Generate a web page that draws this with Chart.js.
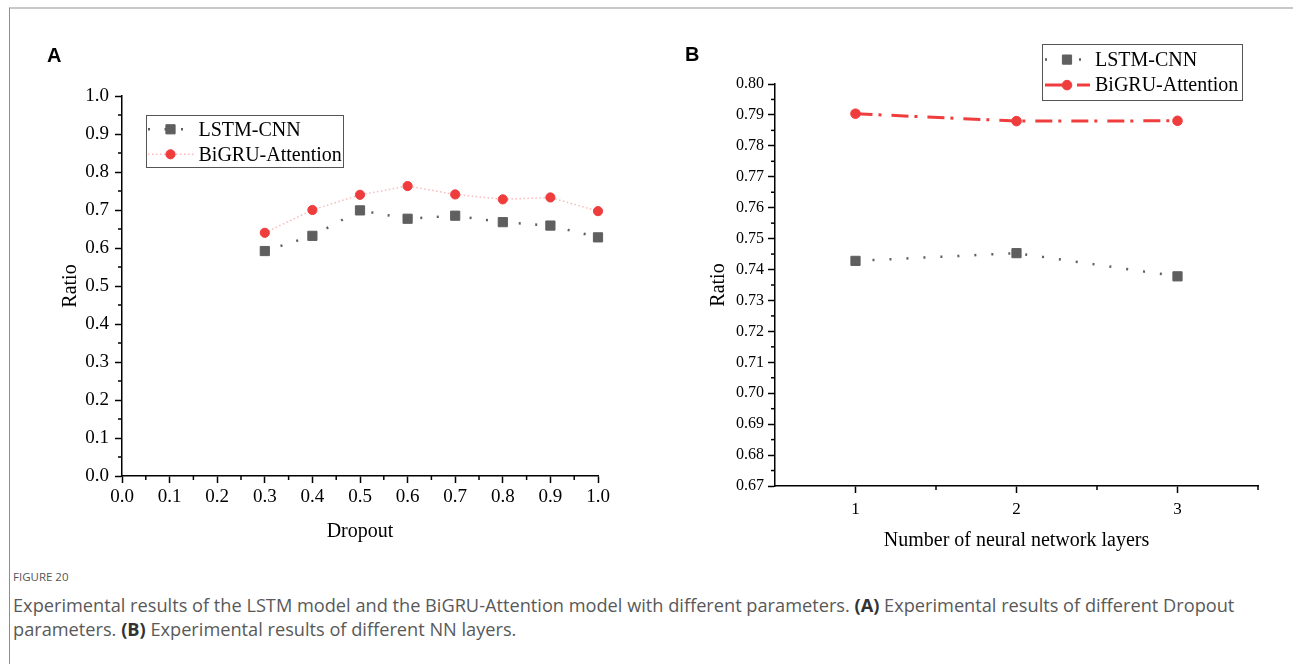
<!DOCTYPE html>
<html><head><meta charset="utf-8">
<script src="https://cdn.jsdelivr.net/npm/chart.js@4"></script>
<style>
html,body{margin:0;padding:0;background:#fff;width:1293px;height:664px;overflow:hidden;position:relative;}
#frame{position:absolute;left:9px;top:7px;width:1300px;height:700px;border-top:2px solid #c8c8c8;border-left:1px solid #8e8e8e;box-sizing:border-box;}
canvas{position:absolute;top:0;}
#ca{left:0;}
#cb{left:640px;}
.letter{position:absolute;font-family:"Liberation Sans",Arial,sans-serif;font-weight:bold;font-size:20px;line-height:20px;color:#000;}
#cap1{position:absolute;left:13px;top:569px;font-family:"Open Sans",sans-serif;font-size:11.5px;line-height:16px;color:#555;white-space:nowrap;}
#cap2{position:absolute;left:13px;top:593px;font-family:"Open Sans",sans-serif;font-size:18.2px;line-height:24px;color:#595959;white-space:nowrap;letter-spacing:0px;}
#cap2 b{color:#333;}
</style></head>
<body>
<div id="frame"></div>
<canvas id="ca" width="640" height="560"></canvas>
<canvas id="cb" width="653" height="560"></canvas>
<div class="letter" style="left:47px;top:45px;">A</div>
<div class="letter" style="left:685px;top:44px;">B</div>
<div id="cap1">FIGURE 20</div>
<div id="cap2">Experimental results of the LSTM model and the BiGRU-Attention model with different parameters. <b>(A)</b> Experimental results of different Dropout<br>parameters. <b>(B)</b> Experimental results of different NN layers.</div>
<script>
// ---- data ----
const seriesNames = ['LSTM-CNN', 'BiGRU-Attention'];
const dropout = [0.3, 0.4, 0.5, 0.6, 0.7, 0.8, 0.9, 1.0];
const lstmCnnA = [0.592, 0.632, 0.699, 0.677, 0.685, 0.668, 0.659, 0.628];
const bigruA = [0.640, 0.700, 0.740, 0.763, 0.741, 0.728, 0.733, 0.697];
const layers = [1, 2, 3];
const lstmCnnB = [0.7428, 0.7453, 0.7378];
const bigruB = [0.7904, 0.7880, 0.7881];
const xTicksA = [0.0, 0.1, 0.2, 0.3, 0.4, 0.5, 0.6, 0.7, 0.8, 0.9, 1.0];
const yTicksB = [0.67, 0.68, 0.69, 0.70, 0.71, 0.72, 0.73, 0.74, 0.75, 0.76, 0.77, 0.78, 0.79, 0.80];

const GRAY = '#5f5f5f';
const RED = '#ef3d3d';
const SERIF = '"Liberation Serif", "Times New Roman", serif';

function pts(xs, ys) { return xs.map((x, i) => ({ x: x, y: ys[i] })); }
function mids(arr) { const m = []; for (let i = 0; i < arr.length - 1; i++) m.push((arr[i] + arr[i + 1]) / 2); return m; }

const minorTicks = {
  id: 'minorTicks',
  afterDraw(chart, args, o) {
    const ctx = chart.ctx, ca = chart.chartArea;
    ctx.save(); ctx.strokeStyle = '#000'; ctx.lineWidth = 1.5;
    (o.x || []).forEach(v => {
      const px = chart.scales.x.getPixelForValue(v);
      ctx.beginPath(); ctx.moveTo(px, ca.bottom); ctx.lineTo(px, ca.bottom + o.len); ctx.stroke();
    });
    (o.y || []).forEach(v => {
      const py = chart.scales.y.getPixelForValue(v);
      ctx.beginPath(); ctx.moveTo(ca.left, py); ctx.lineTo(ca.left - o.len, py); ctx.stroke();
    });
    ctx.restore();
  }
};

function drawMarker(ctx, style, r, x, y, color) {
  ctx.fillStyle = color; ctx.strokeStyle = color; ctx.lineWidth = 1;
  ctx.beginPath();
  if (style === 'rect') { const s = r * Math.SQRT1_2; ctx.rect(x - s, y - s, 2 * s, 2 * s); }
  else { ctx.arc(x, y, r, 0, Math.PI * 2); }
  ctx.fill(); ctx.stroke();
}

const boxLegend = {
  id: 'boxLegend',
  afterDraw(chart, args, o) {
    const ctx = chart.ctx;
    ctx.save();
    ctx.strokeStyle = '#555'; ctx.lineWidth = 1;
    ctx.strokeRect(o.x + 0.5, o.y + 0.5, o.w, o.h);
    chart.data.datasets.forEach((ds, i) => {
      const cy = o.y + o.rows[i];
      ctx.save();
      ctx.strokeStyle = ds.borderColor; ctx.lineWidth = ds.borderWidth;
      ctx.setLineDash(o.dash[i]);
      ctx.beginPath(); ctx.moveTo(o.x + o.lx0[i], cy); ctx.lineTo(o.x + o.lx1[i], cy); ctx.stroke();
      ctx.restore();
      drawMarker(ctx, ds.pointStyle, ds.pointRadius, o.x + o.mx, cy, ds.pointBackgroundColor);
      ctx.fillStyle = '#000';
      ctx.font = o.font;
      ctx.textBaseline = 'middle'; ctx.textAlign = 'left';
      ctx.fillText(ds.label, o.x + o.tx, cy + 1);
    });
    ctx.restore();
  }
};

function axisCommon(size) {
  return {
    grid: { display: true, drawOnChartArea: false, drawTicks: true, tickLength: 7, tickColor: '#000', tickWidth: 1.5 },
    border: { display: true, color: '#000', width: 1.5 },
    ticks: { color: '#000', font: { family: SERIF, size: size } }
  };
}

// ---- Chart A ----
const axAx = axisCommon(19), axAy = axisCommon(19);
new Chart(document.getElementById('ca'), {
  type: 'line',
  data: {
    datasets: [
      { label: seriesNames[0], data: pts(dropout, lstmCnnA), borderColor: GRAY, borderWidth: 2.5, borderDash: [2, 14.5],
        pointStyle: 'rect', pointRadius: 6.5, pointBackgroundColor: GRAY, pointBorderColor: GRAY, pointBorderWidth: 1, clip: false, tension: 0 },
      { label: seriesNames[1], data: pts(dropout, bigruA), borderColor: 'rgba(239,61,61,0.35)', borderWidth: 1.5, borderDash: [1.5, 2.5],
        pointStyle: 'circle', pointRadius: 4.6, pointBackgroundColor: RED, pointBorderColor: RED, pointBorderWidth: 1, clip: false, tension: 0 }
    ]
  },
  options: {
    responsive: false, animation: false, events: [],
    layout: { padding: { left: 0, top: 96, right: 42, bottom: 0 } },
    plugins: {
      legend: { display: false }, tooltip: { enabled: false },
      minorTicks: { x: mids(xTicksA), y: mids(xTicksA), len: 4 },
      boxLegend: { x: 146, y: 115, w: 197, h: 52, rows: [14.3, 39.3], lx0: [2, 2], lx1: [40, 50], dash: [[2, 14.5], [1.5, 2.5]],
        mx: 24.5, tx: 52.5, font: '20px ' + SERIF }
    },
    scales: {
      x: Object.assign(axAx, {
        type: 'linear', min: 0, max: 1,
        ticks: Object.assign(axAx.ticks, { stepSize: 0.1, padding: 3, maxRotation: 0, autoSkip: false, callback: v => v.toFixed(1) }),
        title: { display: true, text: 'Dropout', color: '#000', font: { family: SERIF, size: 20 }, padding: { top: 0, bottom: 16 } },
        afterFit: s => { s.height = 84; }
      }),
      y: Object.assign(axAy, {
        type: 'linear', min: 0, max: 1,
        ticks: Object.assign(axAy.ticks, { stepSize: 0.1, padding: 6, callback: v => v.toFixed(1) }),
        title: { display: true, text: 'Ratio', color: '#000', font: { family: SERIF, size: 20 }, padding: { top: 58.7, bottom: 0 } },
        afterFit: s => { s.width = 122; }
      })
    }
  },
  plugins: [minorTicks, boxLegend]
});

// ---- Chart B ----
const axBx = axisCommon(17), axBy = axisCommon(16);
new Chart(document.getElementById('cb'), {
  type: 'line',
  data: {
    datasets: [
      { label: seriesNames[0], data: pts(layers, lstmCnnB), borderColor: GRAY, borderWidth: 2.5, borderDash: [2, 15],
        pointStyle: 'rect', pointRadius: 6.5, pointBackgroundColor: GRAY, pointBorderColor: GRAY, pointBorderWidth: 1, clip: false, tension: 0 },
      { label: seriesNames[1], data: pts(layers, bigruB), borderColor: RED, borderWidth: 3, borderDash: [17, 6, 3, 10],
        pointStyle: 'circle', pointRadius: 4.8, pointBackgroundColor: RED, pointBorderColor: RED, pointBorderWidth: 1, clip: false, tension: 0 }
    ]
  },
  options: {
    responsive: false, animation: false, events: [],
    layout: { padding: { left: 0, top: 84, right: 35, bottom: 0 } },
    plugins: {
      legend: { display: false }, tooltip: { enabled: false },
      minorTicks: { x: [1.5, 2.5, 3.5], y: mids(yTicksB), len: 4 },
      boxLegend: { x: 402, y: 44, w: 200, h: 56, rows: [15.6, 41.1], lx0: [3, 3], lx1: [40, 48], dash: [[2, 15], [17, 15, 17]],
        mx: 25, tx: 53, font: '20px ' + SERIF }
    },
    scales: {
      x: Object.assign(axBx, {
        type: 'linear', min: 0.5, max: 3.5,
        afterBuildTicks: s => { s.ticks = layers.map(v => ({ value: v })); },
        ticks: Object.assign(axBx.ticks, { padding: 6, maxRotation: 0, autoSkip: false, callback: v => String(v) }),
        title: { display: true, text: 'Number of neural network layers', color: '#000', font: { family: SERIF, size: 20 }, padding: { top: 0, bottom: 7 } },
        afterFit: s => { s.height = 74; }
      }),
      y: Object.assign(axBy, {
        type: 'linear', min: 0.67, max: 0.80,
        ticks: Object.assign(axBy.ticks, { stepSize: 0.01, padding: 4, callback: v => v.toFixed(2) }),
        title: { display: true, text: 'Ratio', color: '#000', font: { family: SERIF, size: 20 }, padding: { top: 66.7, bottom: 0 } },
        afterFit: s => { s.width = 135; }
      })
    }
  },
  plugins: [minorTicks, boxLegend]
});
</script>
</body></html>
